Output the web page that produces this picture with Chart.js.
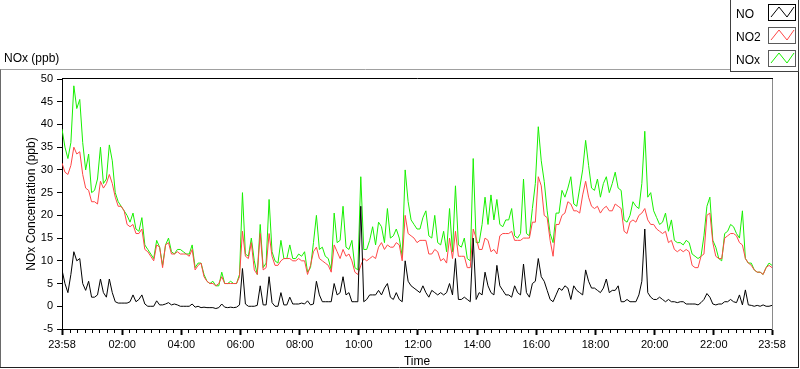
<!DOCTYPE html>
<html>
<head>
<meta charset="utf-8">
<script src="https://cdn.jsdelivr.net/npm/chart.js@4.4.0/dist/chart.umd.min.js"></script>
<style>
html,body{margin:0;padding:0;background:#fff;overflow:hidden;}
canvas{display:block;}
</style>
</head>
<body>
<canvas id="c" width="800" height="369"></canvas>
<script>
// ---- data ----
const seriesNames = ["NO", "NO2", "NOx"];
const chartTitle = "NOx (ppb)";
const yTitle = "NOx Concentration (ppb)";
const xTitle = "Time";
const stepMinutes = 6; // one sample every 6 minutes starting at 23:58

const no = [
 8, 5, 3, 7, 12, 10, 10.5, 5, 3.5, 5.5,
 2, 2, 2.5, 6, 3, 2, 6, 3, 1, 0.7,
 0.7, 0.7, 0.7, 1, 2.5, 1, 1.5, 2.5, 0.5, 0,
 0, 0, 1.2, 0.3, 0.3, 0.5, 0.8, 0.3, 0.5, 0.3,
 0, 0, 0, 0, 0.5, -0.2, 0, -0.3, -0.2, -0.3,
 -0.3, -0.3, -0.5, -0.3, 0.5, -0.2, -0.3, -0.2, -0.3, -0.2,
 0.3, 8.3, 0.5, 0, 0, 0, 0.2, 4.5, 0.3, 0.3,
 6.5, 0.8, 0, 0, 3, 0.3, 0.3, 2, 0.5, 0.5,
 0.5, 0.7, 0.5, 1.2, 0.3, 0.5, 5.5, 2.5, 1, 1,
 1, 1, 5, 2.5, 3, 6.5, 2.5, 3, 1, 1,
 1, 22, 1, 1.5, 2.5, 2.5, 2.5, 3.5, 2.5, 4,
 5, 2, 1.5, 3, 1.5, 1, 10, 5.5, 4.5, 4,
 3.5, 3, 4.5, 3, 2, 3.5, 3, 2.5, 3, 2.5,
 3, 5, 2.5, 10.5, 1.5, 1.5, 2, 1.5, 1, 15,
 1.5, 3, 2.5, 7.5, 4.5, 3, 2.5, 9, 4.5, 3.5,
 2.5, 2.5, 2, 4.5, 3, 2.5, 9.3, 3, 2, 5,
 5.5, 10.5, 6.5, 5.5, 3.5, 1.5, 1, 2.5, 4, 3.5,
 4.5, 4, 1.5, 4.5, 3.5, 3, 2.5, 8, 5.5, 4,
 4, 3.5, 3, 4, 6, 3, 3.5, 3.5, 4.5, 1,
 1, 1.5, 1, 1, 1, 2.5, 5.5, 17, 3, 2,
 1.5, 1.5, 2, 1.5, 1, 1.5, 1, 1, 0.8, 1,
 1, 0.5, 0.5, 0.5, 0.5, 0.3, 0.8, 1.5, 2.8, 2,
 0.5, 0.3, 0.5, 0.5, 1, 1, 1.5, 1, 0.8, 2.5,
 0.3, 3.6, 0.3, 0.2, 0, 0.2, 0, 0.3, 0, 0,
 0.2
];

const no2 = [
 31.5, 29.5, 29, 31, 35, 33.5, 34, 29, 26, 25.5,
 23, 23, 22.5, 27.5, 26, 27, 29, 27, 24, 22,
 22, 21, 18, 17.5, 18, 16, 16, 17, 12.5, 12,
 11, 10, 13.5, 13, 8.5, 13.5, 14, 11.5, 11.5, 12,
 11.5, 11.5, 11.5, 11, 12.5, 8, 9, 9.5, 6.5, 5.5,
 5, 5, 4.5, 5, 6.5, 5, 5, 5, 5, 5,
 6.5, 16.5, 11, 10.5, 14, 8, 7, 16, 8, 8.5,
 16, 11, 9, 9, 10, 10.5, 10.5, 10.5, 10, 10,
 10.5, 10, 10, 7, 9, 12, 13, 10.5, 10, 9.5,
 9, 7.5, 13.5, 12, 10.5, 12.5, 11, 11.5, 10, 7.5,
 7, 9, 10.5, 10, 10.5, 11, 10.5, 13, 14, 12.5,
 13.5, 13, 13, 14, 13.5, 10, 20, 16, 15.5, 15,
 14, 14.5, 14.5, 14.5, 11.5, 11.5, 12.5, 12, 10, 10.5,
 9.5, 15, 10.5, 16.5, 11, 11, 11, 8.5, 8.5, 17,
 15, 12.5, 12.5, 15, 14.5, 12, 12.5, 11.5, 15.5, 16,
 16, 16, 16.5, 14.5, 14.5, 14.5, 15, 15, 15, 18.5,
 18.5, 28.5, 26.5, 20, 19.5, 14.5, 11, 18, 18, 20,
 20.5, 23, 22.5, 21, 21, 20.5, 24.5, 27.5, 24, 22,
 21.5, 22, 20.5, 21.5, 22, 21, 21, 22.5, 22, 21.5,
 16.5, 16, 18.5, 19, 18.5, 20, 20.5, 21.5, 19, 18,
 18, 17, 16.5, 16, 16.5, 14, 14.5, 12.5, 12, 12.5,
 12, 12.5, 12, 9, 8.5, 8.5, 11, 11.5, 20, 20.5,
 14, 11, 10.5, 10.5, 15, 15.5, 16, 16, 15.5, 14,
 13.5, 10.5, 9.5, 9, 8, 7.5, 7.5, 7, 8.5, 9,
 8.5
];

const nox = [
 39, 35, 32.5, 36, 48.5, 43.5, 45.5, 36, 30, 33.5,
 25, 25.5, 28, 35, 27, 28, 35.5, 32, 25, 23,
 22, 21, 20, 18.5, 20.5, 17, 16.5, 19.5, 13.5, 12.5,
 11.5, 10.5, 14.5, 13, 9, 13.5, 15, 12, 11.5, 12.5,
 12.5, 12, 11.5, 11.5, 13.5, 8.5, 9.5, 9.5, 7, 5.5,
 5, 5.5, 4.5, 4.5, 7.5, 5, 5, 5.5, 5, 5,
 7, 25, 11.5, 11, 15, 10, 7, 18, 8.5, 9.5,
 23.5, 12, 10, 9.5, 14.5, 10.5, 10.5, 13.5, 10.5, 10.5,
 11.5, 11, 12, 7.5, 8.5, 14, 20, 12.5, 13, 11,
 10.5, 8, 20.5, 14, 14.5, 22, 13, 12.5, 14.5, 8.5,
 8, 28.5, 12.5, 12.5, 14.5, 17.5, 13.5, 18.5, 17.5, 14,
 21.5, 15, 15.5, 17, 15, 11, 30, 23, 19, 18,
 17, 17, 19.5, 21, 15.5, 15, 20, 14, 13.5, 16.5,
 12, 21.5, 12, 26.5, 13.5, 13, 15, 10.5, 10, 32.5,
 14, 14, 18, 24, 18, 24.5, 19, 23.5, 18, 17.5,
 19, 19, 21.5, 15.5, 15, 16, 28, 16, 15.5, 21.5,
 27, 39.5, 32, 27.5, 21, 16, 14, 20.5, 20.5, 25.5,
 24, 26, 28.5, 22.5, 22, 26, 30, 36.5, 31, 26,
 25.5, 28, 24, 27, 28.5, 25, 27, 29.5, 26, 25.5,
 19, 18.5, 20, 23, 22, 21.5, 27, 38.5, 24, 25,
 21, 19.5, 18, 18.5, 20.5, 16.5, 19, 14.5, 14, 14,
 13.5, 14.5, 14, 11.5, 11, 10.5, 11, 15.5, 22, 24,
 14.5, 13, 10.5, 10, 16, 16.5, 18, 17.5, 16, 15,
 21, 10.5, 9.5, 9.5, 8, 7.5, 7.5, 7, 8.5, 9.5,
 9
];

const yTickValues = [-5, 0, 5, 10, 15, 20, 25, 30, 35, 40, 45, 50];
const xTickLabels = ["23:58", "02:00", "04:00", "06:00", "08:00", "10:00", "12:00", "14:00", "16:00", "18:00", "20:00", "22:00", "23:58"];
const xTickMinutes = [0, 122, 242, 362, 482, 602, 722, 842, 962, 1082, 1202, 1322, 1440];

// ---- build ----
const FONT = "'Liberation Sans', Arial, sans-serif";
const toPoints = arr => arr.map((v, i) => ({x: i * stepMinutes, y: v}));

// minor ticks every 15 minutes (aligned to the full hours), not too close to the ends
const minorTicks = [];
for (let t = 17; t <= 1430; t += 15) {
  if (!xTickMinutes.includes(t)) minorTicks.push(t);
}
const allXTicks = xTickMinutes.concat(minorTicks).sort((a, b) => a - b);
const isMajor = v => xTickMinutes.includes(v);

const framePlugin = {
  id: 'frame',
  afterDraw(chart) {
    const ctx = chart.ctx;
    const a = chart.chartArea;
    ctx.save();
    ctx.lineWidth = 1;
    // plot area top and right borders
    ctx.strokeStyle = '#000';
    ctx.beginPath();
    ctx.moveTo(a.left, a.top - 0.5);
    ctx.lineTo(a.right + 1, a.top - 0.5);
    ctx.stroke();
    ctx.strokeStyle = '#8a8a8a';
    ctx.beginPath();
    ctx.moveTo(a.right + 0.5, a.top);
    ctx.lineTo(a.right + 0.5, a.bottom + 1);
    ctx.stroke();

    // outer frame
    ctx.strokeStyle = '#a0a0a0';
    ctx.beginPath();
    ctx.moveTo(0, 69.5); ctx.lineTo(731, 69.5);
    ctx.stroke();
    ctx.strokeStyle = '#6a6a6a';
    ctx.beginPath();
    ctx.moveTo(0.5, 69.5); ctx.lineTo(0.5, 368);
    ctx.stroke();
    ctx.strokeStyle = '#202020';
    ctx.beginPath();
    ctx.moveTo(0, 367.5); ctx.lineTo(799, 367.5);
    ctx.moveTo(798.5, 72); ctx.lineTo(798.5, 368);
    ctx.stroke();

    // chart caption
    ctx.fillStyle = '#000';
    ctx.font = "12px " + FONT;
    ctx.textAlign = 'left';
    ctx.textBaseline = 'alphabetic';
    ctx.fillText(chartTitle, 4, 62);

    // legend box
    ctx.fillStyle = '#fff';
    ctx.fillRect(731, 0, 68, 72);
    ctx.strokeStyle = '#404040';
    ctx.strokeRect(730.5, -0.5, 68, 72);
    const rows = [4, 27, 50];
    chart.data.datasets.forEach((ds, k) => {
      const top = rows[k];
      ctx.fillStyle = '#000';
      ctx.font = "12px " + FONT;
      ctx.fillText(ds.label, 736, top + 13.5);
      ctx.strokeStyle = k === 0 ? '#000' : '#5a5a5a';
      ctx.strokeRect(768.5, top + 0.5, 27, 16);
      ctx.strokeStyle = ds.borderColor;
      ctx.beginPath();
      ctx.moveTo(771, top + 13);
      ctx.lineTo(779, top + 3);
      ctx.lineTo(787, top + 13);
      ctx.lineTo(794, top + 3);
      ctx.stroke();
    });
    ctx.restore();
  }
};

new Chart(document.getElementById('c').getContext('2d'), {
  type: 'line',
  data: {
    datasets: [
      {label: seriesNames[0], data: toPoints(no), borderColor: '#000000'},
      {label: seriesNames[1], data: toPoints(no2), borderColor: '#ff4646'},
      {label: seriesNames[2], data: toPoints(nox), borderColor: '#18f000'}
    ]
  },
  options: {
    responsive: false,
    animation: false,
    devicePixelRatio: 1,
    layout: {padding: {left: 0, top: 79, right: 28, bottom: 0}},
    elements: {
      point: {radius: 0},
      line: {borderWidth: 1, tension: 0, fill: false}
    },
    plugins: {
      legend: {display: false},
      tooltip: {enabled: false},
      title: {display: false}
    },
    scales: {
      x: {
        type: 'linear',
        min: 0,
        max: 1440,
        afterBuildTicks: s => { s.ticks = allXTicks.map(v => ({value: v})); },
        afterFit: s => { s.height = 40; },
        ticks: {
          autoSkip: false,
          maxRotation: 0,
          minRotation: 0,
          padding: 3,
          color: '#000',
          font: {family: FONT, size: 11},
          callback: v => { const k = xTickMinutes.indexOf(v); return k >= 0 ? xTickLabels[k] : ''; }
        },
        grid: {
          drawOnChartArea: false,
          drawTicks: true,
          tickLength: 6,
          tickColor: '#000',
          tickWidth: c => (c.tick && isMajor(c.tick.value)) ? 2 : 1,
          tickBorderDash: c => (c.tick && isMajor(c.tick.value)) ? [] : [3, 20]
        },
        border: {display: true, color: '#000', width: 1},
        title: {display: true, text: xTitle, color: '#000', font: {family: FONT, size: 12}, padding: {top: 0, bottom: 0}}
      },
      y: {
        type: 'linear',
        min: -5,
        max: 50,
        afterBuildTicks: s => { s.ticks = yTickValues.map(v => ({value: v})); },
        afterFit: s => { s.width = 62; },
        ticks: {
          padding: 4,
          color: '#000',
          font: {family: FONT, size: 11}
        },
        grid: {drawOnChartArea: false, drawTicks: true, tickLength: 5, tickColor: '#000'},
        border: {display: true, color: '#000', width: 1},
        title: {display: true, text: yTitle, color: '#000', font: {family: FONT, size: 12}, padding: {top: 24, bottom: 0}}
      }
    }
  },
  plugins: [framePlugin]
});
</script>
</body>
</html>
